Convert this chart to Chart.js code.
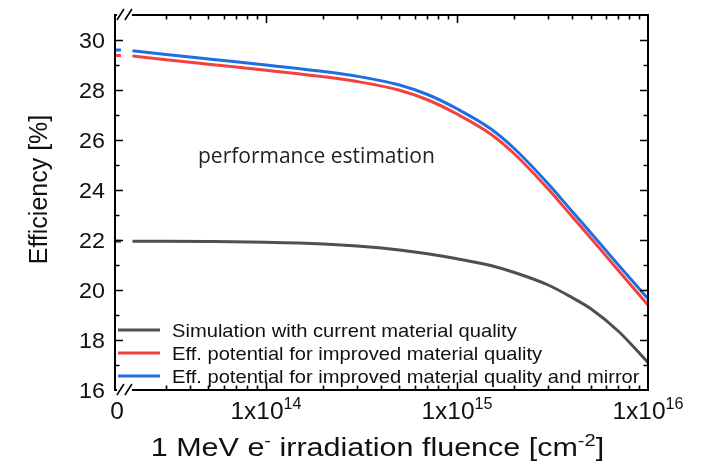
<!DOCTYPE html>
<html>
<head>
<meta charset="utf-8">
<script src="https://cdn.jsdelivr.net/npm/chart.js@4/dist/chart.umd.min.js"></script>
<style>
  body { margin: 0; background: #fff; }
  canvas { display: block; }
</style>
</head>
<body>
<canvas id="effChart" width="703" height="472"></canvas>
<script>
// fluence points of the simulated curves [cm^-2]
const fluence = [2e13, 3e13, 5e13, 1e14, 2e14, 3e14, 5e14, 7e14, 1e15, 1.5e15, 2e15, 3e15, 4e15, 5e15, 7e15, 1e16];

// efficiency [%] for the three cases
const effCurrent  = [21.95, 21.95, 21.94, 21.91, 21.84, 21.76, 21.60, 21.45, 21.25, 20.98, 20.70, 20.20, 19.70, 19.26, 18.35, 17.10];
const effImproved = [29.36, 29.21, 29.03, 28.79, 28.53, 28.34, 27.99, 27.61, 27.04, 26.24, 25.44, 24.04, 22.94, 22.09, 20.78, 19.40];
const effMirror   = [29.57, 29.42, 29.24, 29.00, 28.74, 28.55, 28.20, 27.82, 27.25, 26.45, 25.65, 24.25, 23.15, 22.30, 21.00, 19.65];

// efficiency before irradiation (fluence 0), same order as above
const effAtZero = [21.95, 29.38, 29.60];

const seriesNames = [
  'Simulation with current material quality',
  'Eff. potential for improved material quality',
  'Eff. potential for improved material quality and mirror'
];
const seriesColors = ['#4f4f4f', '#f2413f', '#1e6fdf'];

const yTicks = [16, 18, 20, 22, 24, 26, 28, 30];
const xDecades = [1e14, 1e15, 1e16];

// the "0" sits at the left end of the broken log axis
const xMin = 1.62e13;
const xMax = 1e16;
const zeroStubEnd = 1.74e13;
const breakEnd = 2.4e13;

const FONT = '"Liberation Sans", Arial, sans-serif';

const datasets = [];
[effCurrent, effImproved, effMirror].forEach((vals, i) => {
  datasets.push({
    label: seriesNames[i],
    data: fluence.map((f, k) => ({ x: f, y: vals[k] })),
    borderColor: seriesColors[i],
    borderWidth: 3,
    pointRadius: 0,
    cubicInterpolationMode: 'monotone',
    fill: false
  });
});
// short pieces left of the axis break
effAtZero.forEach((v, i) => {
  datasets.push({
    label: '',
    data: [{ x: xMin, y: v }, { x: zeroStubEnd, y: v }],
    borderColor: seriesColors[i],
    borderWidth: 3,
    pointRadius: 0,
    fill: false
  });
});

// text helper: runs of [text, isSuperscript], optional horizontal stretch
function drawRuns(ctx, runs, x, baseline, size, opts) {
  const o = Object.assign({ stretch: 1, align: 'center', family: FONT, color: '#111' }, opts);
  const parts = runs.map(([t, sup]) => {
    const fs = sup ? size * 0.66 : size;
    ctx.font = fs + 'px ' + o.family;
    return { t, sup, fs, w: ctx.measureText(t).width * o.stretch };
  });
  const total = parts.reduce((s, p) => s + p.w, 0);
  let px = o.align === 'center' ? x - total / 2 : (o.align === 'right' ? x - total : x);
  parts.forEach(p => {
    ctx.save();
    ctx.font = p.fs + 'px ' + o.family;
    ctx.fillStyle = o.color;
    ctx.textAlign = 'left';
    ctx.textBaseline = 'alphabetic';
    ctx.translate(px, baseline - (p.sup ? size * 0.42 : 0));
    ctx.scale(o.stretch, 1);
    ctx.fillText(p.t, 0, 0);
    ctx.restore();
    px += p.w;
  });
}

const axisFrame = {
  id: 'axisFrame',
  afterDraw(chart) {
    const { ctx, chartArea: a, scales: { x, y } } = chart;
    ctx.save();

    // frame
    ctx.strokeStyle = '#000';
    ctx.lineWidth = 2;
    ctx.strokeRect(a.left, a.top, a.right - a.left, a.bottom - a.top);

    // inward ticks
    ctx.lineWidth = 1.6;
    ctx.beginPath();
    for (let v = 17; v <= 30; v++) {
      const py = Math.round(y.getPixelForValue(v)) + 0.5;
      const len = v % 2 === 0 ? 8 : 4.5;
      ctx.moveTo(a.left, py); ctx.lineTo(a.left + len, py);
      ctx.moveTo(a.right, py); ctx.lineTo(a.right - len, py);
    }
    for (let d = 13; d <= 15; d++) {
      for (let m = 1; m <= 9; m++) {
        const v = m * Math.pow(10, d);
        if (v <= breakEnd || v >= xMax) continue;
        const px = Math.round(x.getPixelForValue(v)) + 0.5;
        const len = m === 1 ? 8 : 4.5;
        ctx.moveTo(px, a.bottom); ctx.lineTo(px, a.bottom - len);
        ctx.moveTo(px, a.top); ctx.lineTo(px, a.top + len);
      }
    }
    ctx.stroke();

    // axis break marks on top and bottom
    const bx = x.getPixelForValue(zeroStubEnd);
    [a.top, a.bottom].forEach(ay => {
      ctx.fillStyle = '#fff';
      ctx.fillRect(bx - 4, ay - 2, 15, 4);
      ctx.strokeStyle = '#000';
      ctx.lineWidth = 1.6;
      ctx.beginPath();
      ctx.moveTo(bx - 4, ay + 5); ctx.lineTo(bx + 3, ay - 6);
      ctx.moveTo(bx + 4, ay + 5); ctx.lineTo(bx + 11, ay - 6);
      ctx.stroke();
    });

    // y tick labels
    yTicks.forEach(v => {
      const py = y.getPixelForValue(v);
      drawRuns(ctx, [[String(v)]], a.left - 10, py + 7.8, 22, { align: 'right', stretch: 1.06 });
    });

    // x tick labels
    const lblBase = a.bottom + 29;
    drawRuns(ctx, [['0']], x.getPixelForValue(xMin) + 2, lblBase, 24.5);
    xDecades.forEach(v => {
      const exp = Math.round(Math.log10(v));
      drawRuns(ctx, [['1x10'], [String(exp), true]], x.getPixelForValue(v), lblBase, 24.5);
    });

    // axis titles
    drawRuns(ctx, [['1 MeV e'], ['-', true], [' irradiation fluence [cm'], ['-2', true], [']']],
      (a.left + a.right) / 2 - 4, a.bottom + 66, 25, { stretch: 1.22 });
    ctx.save();
    ctx.translate(46.5, (a.top + a.bottom) / 2 - 13);
    ctx.rotate(-Math.PI / 2);
    drawRuns(ctx, [['Efficiency [%]']], 0, 0, 25);
    ctx.restore();

    // annotation
    drawRuns(ctx, [['performance estimation']], 198, 163, 21,
      { align: 'left', family: '"Open Sans", sans-serif', color: '#222' });

    // legend
    seriesNames.forEach((name, i) => {
      const cy = a.bottom - 60 + i * 23;
      ctx.strokeStyle = seriesColors[i];
      ctx.lineWidth = 3;
      ctx.beginPath();
      ctx.moveTo(a.left + 3, cy); ctx.lineTo(a.left + 45, cy);
      ctx.stroke();
      drawRuns(ctx, [[name]], a.left + 57, cy + 6.8, 19, { align: 'left', stretch: 1.06 });
    });

    ctx.restore();
  }
};

new Chart(document.getElementById('effChart'), {
  type: 'line',
  data: { datasets: datasets },
  options: {
    responsive: false,
    animation: false,
    layout: { padding: { left: 0, top: 15, right: 55, bottom: 0 } },
    plugins: {
      legend: { display: false },
      tooltip: { enabled: false }
    },
    scales: {
      x: {
        type: 'logarithmic',
        min: xMin,
        max: xMax,
        grid: { display: false, drawTicks: false },
        border: { display: false },
        ticks: { display: false },
        afterFit: s => { s.height = 82; }
      },
      y: {
        min: 16,
        max: 31,
        grid: { display: false, drawTicks: false },
        border: { display: false },
        ticks: { display: false },
        afterFit: s => { s.width = 115; }
      }
    }
  },
  plugins: [axisFrame]
});
</script>
</body>
</html>
